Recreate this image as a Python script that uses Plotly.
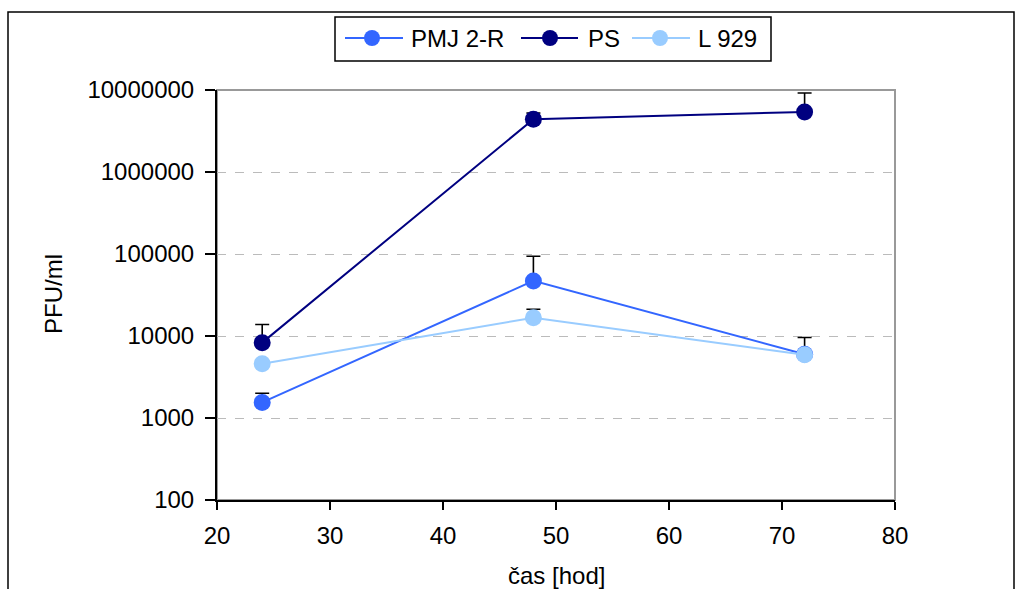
import plotly.graph_objects as go

# Virus titre over time for three cell lines
hours = [24, 48, 72]

pmj_titre = [1550, 47000, 6000]
pmj_err = [450, 47000, 3600]

ps_titre = [8300, 4400000, 5400000]
ps_err = [5500, 850000, 3800000]

l929_titre = [4600, 16700, 5900]
l929_err = [350, 4500, 350]

series_names = ["PMJ 2-R", "PS", "L 929"]
series_colors = ["#3366FF", "#000080", "#99CCFF"]

y_tick_vals = [100, 1000, 10000, 100000, 1000000, 10000000]
y_tick_text = ["100", "1000", "10000", "100000", "1000000", "10000000"]
x_tick_vals = [20, 30, 40, 50, 60, 70, 80]

FONT = "Liberation Sans, Arial, sans-serif"
W, H = 1028, 589
L, R, T, B = 217, 895, 90, 500  # plot area in pixels


def px(x):
    return (x - L) / (R - L)


def py(y):
    return (B - y) / (B - T)


fig = go.Figure()

for name, color, vals, err in zip(
    series_names, series_colors,
    [pmj_titre, ps_titre, l929_titre],
    [pmj_err, ps_err, l929_err],
):
    fig.add_trace(go.Scatter(
        x=hours, y=vals, name=name, mode="lines+markers",
        line=dict(color=color, width=2),
        marker=dict(color=color, size=17),
        error_y=dict(type="data", symmetric=False, array=err,
                     arrayminus=[0] * len(err), color="black",
                     thickness=1.6, width=7),
        showlegend=False,
    ))

shapes = []
annotations = []

# plot-area frame: grey top and right edges
shapes.append(dict(type="rect", xref="paper", yref="paper", x0=0, x1=1, y0=0, y1=1,
                   line=dict(color="#999999", width=2), layer="below"))
# outer chart border
shapes.append(dict(type="rect", xref="paper", yref="paper",
                   x0=px(8), x1=px(1014), y0=py(620), y1=py(12),
                   line=dict(color="black", width=1.5)))

# legend box and entries
shapes.append(dict(type="rect", xref="paper", yref="paper",
                   x0=px(335), x1=px(771), y0=py(61), y1=py(17),
                   line=dict(color="black", width=1.5), fillcolor="white"))
legend_y = 38
entries = [(345, 403, 372, 409), (521, 578, 550, 586), (632, 690, 660, 696)]
for (lx0, lx1, mx, tx), name, color in zip(entries, series_names, series_colors):
    shapes.append(dict(type="line", xref="paper", yref="paper",
                       x0=px(lx0), x1=px(lx1), y0=py(legend_y), y1=py(legend_y),
                       line=dict(color=color, width=2)))
    shapes.append(dict(type="circle", xref="paper", yref="paper",
                       x0=px(mx - 8), x1=px(mx + 8), y0=py(legend_y + 8), y1=py(legend_y - 8),
                       line=dict(color=color, width=0), fillcolor=color))
    annotations.append(dict(xref="paper", yref="paper", x=px(tx), y=py(legend_y),
                            text=name, showarrow=False, xanchor="left", yanchor="middle",
                            font=dict(family=FONT, size=24, color="black")))

# axis titles
annotations.append(dict(xref="paper", yref="paper", x=px(556), y=py(575), text="čas [hod]",
                        showarrow=False, xanchor="center", yanchor="middle",
                        font=dict(family=FONT, size=24, color="black")))
annotations.append(dict(xref="paper", yref="paper", x=px(53), y=py(294), text="PFU/ml",
                        showarrow=False, xanchor="center", yanchor="middle", textangle=-90,
                        font=dict(family=FONT, size=24, color="black")))

fig.update_layout(
    width=W, height=H,
    margin=dict(l=L, r=W - R, t=T, b=H - B, pad=0),
    paper_bgcolor="white", plot_bgcolor="white",
    font=dict(family=FONT, size=24, color="black"),
    shapes=shapes, annotations=annotations,
    xaxis=dict(range=[20, 80], tickvals=x_tick_vals, showgrid=False, zeroline=False,
               showline=True, linecolor="black", linewidth=2,
               ticks="outside", ticklen=8, tickwidth=1.5, tickcolor="black",
               ticklabelstandoff=5,
               tickfont=dict(family=FONT, size=24, color="black")),
    yaxis=dict(type="log", range=[2, 7], tickvals=y_tick_vals, ticktext=y_tick_text,
               showgrid=True, gridcolor="#BBBBBB", griddash="dash", gridwidth=1,
               zeroline=False, showline=True, linecolor="black", linewidth=2,
               ticks="outside", ticklen=10, tickwidth=1.5, tickcolor="black",
               ticklabelstandoff=6,
               tickfont=dict(family=FONT, size=24, color="black")),
)

fig.write_html("out.html")
